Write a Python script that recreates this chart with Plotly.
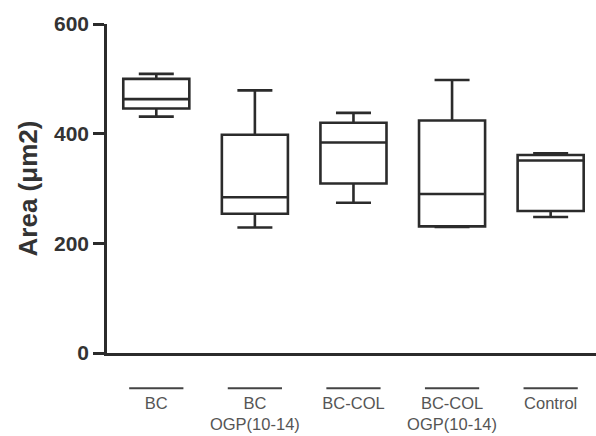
import plotly.graph_objects as go

categories = ["BC", "BC<br>OGP(10-14)", "BC-COL", "BC-COL<br>OGP(10-14)", "Control"]
lower = [431, 229, 274, 230, 248]
q1 = [446, 254, 309, 231, 259]
median = [463, 284, 384, 290, 351]
q3 = [500, 398, 420, 424, 361]
upper = [509, 479, 438, 498, 364]
y_ticks = [0, 200, 400, 600]

line_col = "#2b2b2b"
fig = go.Figure()
xs = list(range(len(categories)))
fig.add_trace(go.Box(
    x=xs, q1=q1, median=median, q3=q3, lowerfence=lower, upperfence=upper,
    width=0.67, whiskerwidth=0.53, fillcolor="rgba(0,0,0,0)",
    line=dict(color=line_col, width=2.6), boxpoints=False, showlegend=False,
    hoverinfo="skip",
))

for i in xs:
    fig.add_shape(type="line", xref="x", yref="paper", x0=i - 0.275, x1=i + 0.275,
                  y0=-0.107, y1=-0.107, line=dict(color="#444", width=2))

fig.update_layout(
    width=596, height=436, margin=dict(l=107, r=0, t=24, b=83),
    paper_bgcolor="white", plot_bgcolor="white",
    font=dict(family="Liberation Sans, Arial, sans-serif", color="#333"),
    xaxis=dict(range=[-0.5, 4.46], tickvals=xs, ticktext=categories,
               showgrid=False, zeroline=False, showline=True, linecolor=line_col, linewidth=2.6,
               ticks="", ticklabelstandoff=33,
               tickfont=dict(size=16.5, color="#555")),
    yaxis=dict(range=[0, 600], tickvals=y_ticks, showgrid=False, zeroline=False,
               showline=True, linecolor=line_col, linewidth=2.6, ticks="outside",
               ticklen=11, tickwidth=2.6, tickcolor=line_col,
               tickfont=dict(size=21, color="#333", weight="bold"),
               title=dict(text="Area (μm2)", font=dict(size=26, color="#333", weight="bold"),
                          standoff=9)),
)
fig.write_html("out.html")
